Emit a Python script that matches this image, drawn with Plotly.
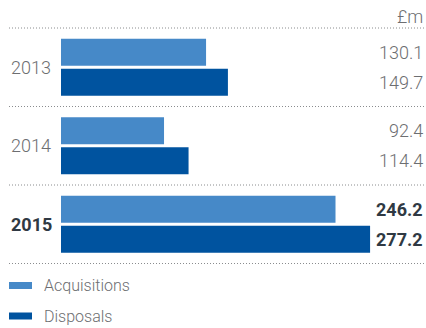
import plotly.graph_objects as go

# Acquisitions and disposals by year, £m
years = ["2013", "2014", "2015"]
acquisitions = [130.1, 92.4, 246.2]
disposals = [149.7, 114.4, 277.2]
series_names = ["Acquisitions", "Disposals"]
unit_label = "£m"

W, H = 426, 328
ACQ_COLOR = "#4689c8"
DIS_COLOR = "#00539f"
LIGHT_TEXT = "#6d6e71"
BOLD_TEXT = "#2f3943"
FONT = "Roboto"

# category pitch in pixels and the pixel centre of the first group
pitch = 78.5
first_center = 67.25
y_top = -first_center / pitch
y_bottom = y_top + H / pitch

x_left_px = 61
px_per_unit = 1.115
x_max = (W - x_left_px) / px_per_unit

fig = go.Figure()
fig.add_trace(go.Bar(
    y=years, x=acquisitions, orientation="h", name=series_names[0],
    marker=dict(color=ACQ_COLOR, line=dict(width=0)), hoverinfo="skip",
))
fig.add_trace(go.Bar(
    y=years, x=disposals, orientation="h", name=series_names[1],
    marker=dict(color=DIS_COLOR, line=dict(width=0)), hoverinfo="skip",
))

annotations = []
shapes = []
last = len(years) - 1

# on a category axis, annotation positions use the category index
for i, yr in enumerate(years):
    bold = i == last
    annotations.append(dict(
        x=9 / W, xref="paper", y=i, yref="y", xanchor="left", yanchor="middle",
        text=f"<b>{yr}</b>" if bold else yr, showarrow=False,
        font=dict(family=FONT, size=18, color=BOLD_TEXT if bold else LIGHT_TEXT,
                  weight=700 if bold else 300),
    ))
    for vals, shift in ((acquisitions, 15), (disposals, -15)):
        v = f"{vals[i]:.1f}"
        annotations.append(dict(
            x=425 / W, xref="paper", y=i, yref="y", yshift=shift,
            xanchor="right", yanchor="middle",
            text=f"<b>{v}</b>" if bold else v, showarrow=False,
            font=dict(family=FONT, size=18, color=BOLD_TEXT if bold else LIGHT_TEXT,
                      weight=700 if bold else 300),
        ))

# dotted separators between year groups
for k in range(len(years) + 1):
    sep = k - 0.5
    shapes.append(dict(
        type="line", xref="paper", yref="y", x0=9 / W, x1=425 / W, y0=sep, y1=sep,
        line=dict(color="#8a8c8e", width=1, dash="1px,2px"),
    ))

# unit label
annotations.append(dict(
    x=425 / W, xref="paper", y=1 - 16 / H, yref="paper", xanchor="right",
    yanchor="middle", text=unit_label, showarrow=False,
    font=dict(family=FONT, size=18, color=LIGHT_TEXT, weight=300),
))

# legend swatches and labels
for name, color, cy in ((series_names[0], ACQ_COLOR, 285.5), (series_names[1], DIS_COLOR, 316)):
    shapes.append(dict(
        type="rect", xref="paper", yref="paper",
        x0=9 / W, x1=32 / W, y0=1 - (cy - 3.5) / H, y1=1 - (cy + 3.5) / H,
        fillcolor=color, line=dict(width=0),
    ))
    annotations.append(dict(
        x=42 / W, xref="paper", y=1 - cy / H, yref="paper", xanchor="left",
        yanchor="middle", text=name, showarrow=False,
        font=dict(family=FONT, size=16, color=LIGHT_TEXT, weight=300),
    ))

fig.update_layout(
    width=W, height=H, margin=dict(l=0, r=0, t=0, b=0),
    paper_bgcolor="white", plot_bgcolor="white",
    barmode="group", bargap=0.236, bargroupgap=0.1, showlegend=False,
    xaxis=dict(domain=[x_left_px / W, 1], range=[0, x_max], visible=False, fixedrange=True),
    yaxis=dict(domain=[0, 1], range=[y_bottom, y_top], visible=False,
               type="category", categoryorder="array", categoryarray=years, fixedrange=True),
    annotations=annotations, shapes=shapes,
)

fig.write_html("out.html", config={"displayModeBar": False})
